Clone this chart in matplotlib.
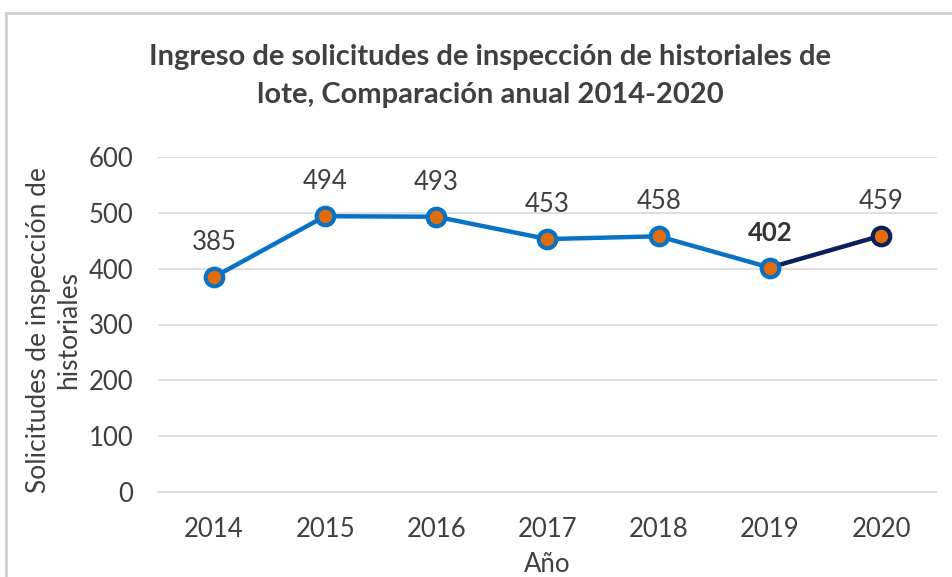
import matplotlib.pyplot as plt
from matplotlib.patches import Rectangle

years = ["2014", "2015", "2016", "2017", "2018", "2019", "2020"]
values = [385, 494, 493, 453, 458, 402, 459]
yticks = [0, 100, 200, 300, 400, 500, 600]

title = "Ingreso de solicitudes de inspección de historiales de\nlote, Comparación anual 2014-2020"
ylabel = "Solicitudes de inspección de\nhistoriales"
xlabel = "Año"

plt.rcParams['font.family'] = ['Lato', 'DejaVu Sans']
txt = '#404040'
blue = '#0A72C4'
navy = '#0B1F5C'
orange = '#E36C0A'
fs = 18.5

fig = plt.figure(figsize=(9.53, 5.77), dpi=100)
ax = fig.add_axes([158.4/953, 1-492/577, (936.6-158.4)/953, (492-157)/577])

x = list(range(len(years)))
ax.plot(x[:-1], values[:-1], color=blue, lw=3.2, zorder=3, solid_capstyle='round')
ax.plot(x[-2:], values[-2:], color=navy, lw=3.2, zorder=3)
ax.scatter(x[:-1], values[:-1], s=160, facecolor=orange, edgecolor=blue, linewidth=3, zorder=4)
ax.scatter(x[-1:], values[-1:], s=160, facecolor=orange, edgecolor=navy, linewidth=3, zorder=4)

for i, v in enumerate(values):
    bold = (years[i] == "2019")
    ax.annotate(str(v), (i, v), xytext=(0, 16), textcoords='offset points',
                ha='center', va='bottom', fontsize=fs, color='#333333' if bold else txt,
                fontweight='bold' if bold else 'normal')

ax.set_xlim(-0.5, len(years) - 0.5)
ax.set_ylim(0, 600)
ax.set_yticks(yticks)
ax.set_xticks(x)
ax.set_xticklabels(years)
ax.grid(axis='y', color='#D9D9D9', lw=1.2)
ax.set_axisbelow(True)
for s in ['top', 'right', 'left']:
    ax.spines[s].set_visible(False)
ax.spines['bottom'].set_color('#D9D9D9')
ax.spines['bottom'].set_linewidth(1.2)
ax.tick_params(axis='both', length=0, labelsize=fs, labelcolor=txt)
ax.tick_params(axis='x', pad=18)
ax.tick_params(axis='y', pad=18)

ax.set_xlabel(xlabel, fontsize=fs, color=txt, labelpad=7)
fig.text(54/953, 1-330/577, ylabel, rotation=90, ha='center', va='center',
         fontsize=19, color=txt, multialignment='center', linespacing=1.25)

fig.text(490/953, 1-76/577, title, ha='center', va='center', fontsize=21,
         fontweight='bold', color=txt, linespacing=1.6)

fig.patches.append(Rectangle((6/953, -0.1), 1.2, 1 - 13/577 + 0.1, transform=fig.transFigure,
                             fill=False, edgecolor='#D0D0D0', lw=2))

fig.savefig('out.png', dpi=100)
